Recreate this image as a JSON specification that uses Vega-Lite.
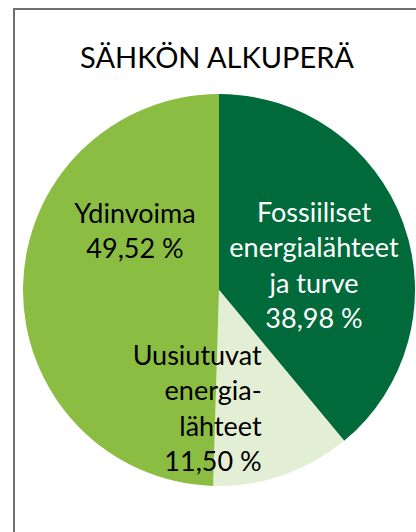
{
  "$schema": "https://vega.github.io/schema/vega-lite/v6.json",
  "width": 403,
  "height": 524,
  "autosize": {"type": "none"},
  "padding": {"left": 14, "top": 9, "right": 0, "bottom": 0},
  "background": "white",
  "config": {"view": {"stroke": null}},
  "title": {
    "text": "SÄHKÖN ALKUPERÄ",
    "font": "Lato",
    "fontSize": 29,
    "fontWeight": "normal",
    "color": "#000000",
    "anchor": "middle",
    "frame": "group",
    "baseline": "alphabetic",
    "offset": -89,
    "dx": 1.5
  },
  "data": {
    "values": [
      {"lahde": "Fossiiliset energialähteet ja turve", "osuus": 38.98, "jarjestys": 1, "label": "Fossiiliset\nenergialähteet\nja turve\n38,98 %"},
      {"lahde": "Uusiutuvat energialähteet", "osuus": 11.50, "jarjestys": 2, "label": "Uusiutuvat\nenergia-\nlähteet\n11,50 %"},
      {"lahde": "Ydinvoima", "osuus": 49.52, "jarjestys": 3, "label": "Ydinvoima\n49,52 %"}
    ]
  },
  "layer": [
    {
      "data": {"values": [{"kehys": 1}]},
      "mark": {"type": "rect", "filled": false, "stroke": "#6e6e6e", "strokeWidth": 2},
      "encoding": {}
    },
    {
      "mark": {"type": "arc", "radius": 196, "xOffset": 3.5, "yOffset": 19},
      "encoding": {
        "theta": {"field": "osuus", "type": "quantitative", "stack": true},
        "order": {"field": "jarjestys", "type": "quantitative"},
        "color": {
          "field": "lahde",
          "type": "nominal",
          "scale": {
            "domain": ["Fossiiliset energialähteet ja turve", "Uusiutuvat energialähteet", "Ydinvoima"],
            "range": ["#006A3A", "#E3EFD5", "#8ABD42"]
          },
          "legend": null
        }
      }
    },
    {
      "mark": {"type": "text", "radius": 84, "dy": -66, "xOffset": 3.5, "yOffset": 19, "align": "center", "baseline": "alphabetic", "font": "Lato", "fontSize": 27, "lineHeight": 35.5, "lineBreak": "\n", "color": "#000000"},
      "encoding": {
        "theta": {"field": "osuus", "type": "quantitative", "stack": true},
        "order": {"field": "jarjestys", "type": "quantitative"},
        "text": {"condition": {"test": "datum.jarjestys === 3", "field": "label"}, "value": ""}
      }
    },
    {
      "mark": {"type": "text", "radius": 101, "dy": -34, "xOffset": 3.5, "yOffset": 19, "align": "center", "baseline": "alphabetic", "font": "Lato", "fontSize": 27, "lineHeight": 35.5, "lineBreak": "\n", "color": "#FFFFFF"},
      "encoding": {
        "theta": {"field": "osuus", "type": "quantitative", "stack": true},
        "order": {"field": "jarjestys", "type": "quantitative"},
        "text": {"condition": {"test": "datum.jarjestys === 1", "field": "label"}, "value": ""}
      }
    },
    {
      "mark": {"type": "text", "radius": 79, "dx": 17, "xOffset": 3.5, "yOffset": 19, "align": "right", "baseline": "alphabetic", "font": "Lato", "fontSize": 27, "lineHeight": 35.5, "lineBreak": "\n", "color": "#000000"},
      "encoding": {
        "theta": {"field": "osuus", "type": "quantitative", "stack": true},
        "order": {"field": "jarjestys", "type": "quantitative"},
        "text": {"condition": {"test": "datum.jarjestys === 2", "field": "label"}, "value": ""}
      }
    }
  ]
}
